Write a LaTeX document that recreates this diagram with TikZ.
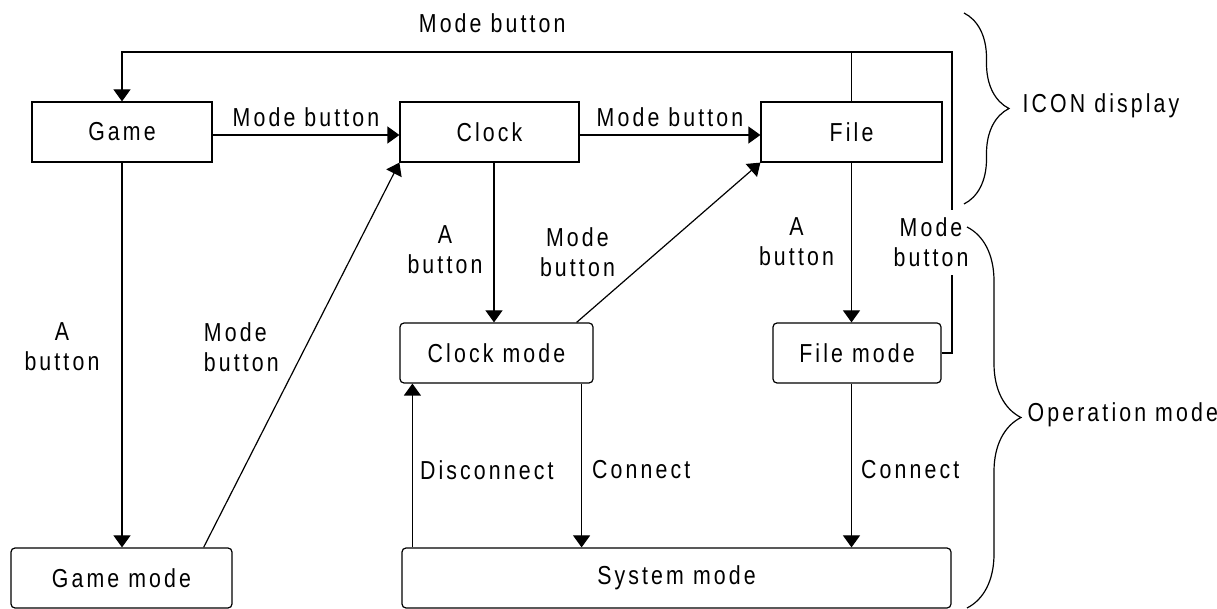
\documentclass[tikz,border=0pt]{standalone}
\usepackage{fontspec}
\setmainfont{Liberation Sans}[FakeStretch=0.82,LetterSpace=12]
\usetikzlibrary{arrows.meta,decorations.pathreplacing}
\begin{document}
\begin{tikzpicture}[x=0.5pt,y=-0.5pt,
    font=\fontsize{13}{15}\selectfont,
    line width=0.6pt,
    >={Triangle[length=6pt,width=8.5pt]},
    state/.style={draw,minimum height=30pt,inner sep=0pt},
    mode/.style={state,rounded corners=2pt},
    lbl/.style={inner sep=0pt,align=center}]
      \useasboundingbox (0,0) rectangle (1217,609);
%
      \node[state,minimum width=90pt] (game) at (122,132) {Game};
      \node[state,minimum width=89.5pt] (clock) at (489.5,132) {Clock};
      \node[state,minimum width=90.5pt] (file) at (851.5,132) {File};
%
      \node[mode,minimum width=96.5pt] (clockmode) at (496.5,353) {Clock mode};
      \node[mode,minimum width=84pt] (filemode) at (857,353) {File mode};
      \node[mode,minimum width=110.5pt] (gamemode) at (121.5,578) {Game mode};
      \node[mode,minimum width=274.5pt] (sysmode) at (676.5,578) {System mode};
%
      \coordinate (tr) at (952,52);
      \draw[->] (filemode.east) -| node[lbl,fill=white,inner ysep=4pt,xshift=-10.5pt,pos=0.684] {Mode\\button} (tr)
          -| node[lbl,above=9.5pt,pos=0.277] {Mode button} (game.north);
      \draw (file.north) -- (file.north |- tr);
%
      \draw[->] ([yshift=-1.5pt]game.east) -- ([yshift=-1.5pt]clock.west) node[lbl,midway,above=4pt] {Mode button};
      \draw[->] ([yshift=-1.5pt]clock.east) -- ([yshift=-1.5pt]file.west) node[lbl,midway,above=4pt] {Mode button};
%
      \draw[->] (game.south) -- (game.south |- gamemode.north) node[lbl,left=11pt,pos=0.479] {A\\button};
      \draw[->] ([xshift=-14.5pt]gamemode.north east) -- (clock.south west) node[lbl,align=left,left=13pt,pos=0.52] {Mode\\button};
%
      \draw[->] ([xshift=2.25pt]clock.south) -- ([xshift=2.25pt]clock.south |- clockmode.north) node[lbl,left=5.5pt,pos=0.547] {A\\button};
      \draw[->] ([xshift=-8.5pt]clockmode.north east) -- (file.south west) node[lbl,left=21pt,pos=0.44] {Mode\\button};
      \draw[->] (file.south) -- (file.south |- filemode.north) node[lbl,left=8.5pt,pos=0.497] {A\\button};
%
      \draw[->] ([xshift=-6pt]clockmode.south east) -- ([xshift=-6pt]clockmode.south east |- sysmode.north) node[lbl,right=5pt,pos=0.527] {Connect};
      \draw[->] ([xshift=5.5pt]sysmode.north west) -- ([xshift=5.5pt]sysmode.north west |- clockmode.south) node[lbl,right=3.5pt,pos=0.47] {Disconnect};
      \draw[->] (file.south |- filemode.south) -- (file.south |- sysmode.north) node[lbl,right=4.5pt,pos=0.527] {Connect};
%
      \draw[decorate,decoration={brace,amplitude=22.5pt}] (964,13) -- (964,204);
      \draw[decorate,decoration={brace,amplitude=27pt}] (967,227) -- (967,608);
      \node[lbl,anchor=base west] (icon) at (1022,113) {ICON display};
      \node[lbl,anchor=base west] (opmode) at (1027,422) {Operation mode};
%
\end{tikzpicture}
\end{document}
